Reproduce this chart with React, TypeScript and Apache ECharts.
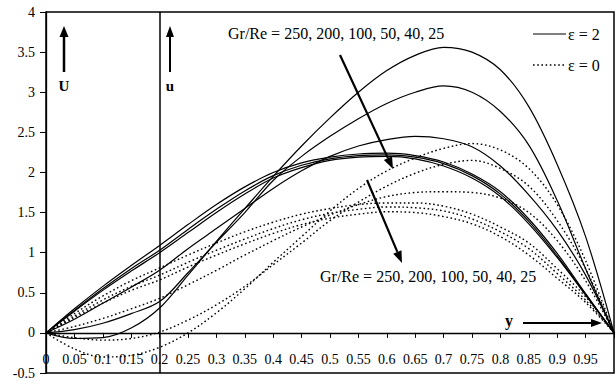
import React, { useEffect, useRef } from "react";
import * as echarts from "echarts";

const xs = [0, 0.05, 0.1, 0.15, 0.2, 0.25, 0.3, 0.35, 0.4, 0.45, 0.5, 0.55, 0.6, 0.65, 0.7, 0.75, 0.8, 0.85, 0.9, 0.95, 1];
const xTickLabels = ["0", "0.05", "0.1", "0.15", "0.2", "0.25", "0.3", "0.35", "0.4", "0.45", "0.5", "0.55", "0.6", "0.65", "0.7", "0.75", "0.8", "0.85", "0.9", "0.95", ""];
const grRe = [250, 200, 100, 50, 40, 25];

// epsilon = 2 (solid)
const solid250 = [0, -0.07, -0.06, 0.06, 0.31, 0.72, 1.14, 1.55, 1.95, 2.33, 2.68, 3.0, 3.27, 3.46, 3.56, 3.5, 3.28, 2.82, 2.1, 1.2, 0];
const solid200 = [0, 0.04, 0.12, 0.24, 0.39, 0.75, 1.13, 1.5, 1.9, 2.2, 2.45, 2.67, 2.86, 3.0, 3.08, 3.0, 2.76, 2.34, 1.65, 0.8, 0];
const solid100 = [0, 0.17, 0.37, 0.57, 0.78, 1.05, 1.3, 1.55, 1.8, 2.02, 2.2, 2.33, 2.41, 2.45, 2.42, 2.32, 2.08, 1.72, 1.28, 0.72, 0];
const solid50 = [0, 0.3, 0.58, 0.84, 1.09, 1.35, 1.6, 1.82, 2.0, 2.12, 2.19, 2.23, 2.24, 2.21, 2.13, 1.98, 1.76, 1.42, 0.99, 0.49, 0];
const solid40 = [0, 0.28, 0.55, 0.8, 1.03, 1.29, 1.54, 1.77, 1.96, 2.09, 2.17, 2.21, 2.22, 2.19, 2.11, 1.96, 1.73, 1.39, 0.96, 0.48, 0];
const solid25 = [0, 0.27, 0.53, 0.77, 1.0, 1.25, 1.5, 1.73, 1.93, 2.06, 2.15, 2.19, 2.2, 2.17, 2.08, 1.93, 1.7, 1.36, 0.94, 0.47, 0];

// epsilon = 0 (dotted)
const dot250 = [0, -0.2, -0.3, -0.28, -0.18, 0.0, 0.25, 0.55, 0.88, 1.2, 1.52, 1.8, 2.02, 2.18, 2.3, 2.36, 2.28, 2.05, 1.6, 0.9, 0];
const dot200 = [0, -0.06, -0.09, -0.07, 0.01, 0.16, 0.35, 0.58, 0.85, 1.12, 1.4, 1.63, 1.83, 1.99, 2.1, 2.15, 2.05, 1.83, 1.4, 0.8, 0];
const dot100 = [0, 0.08, 0.18, 0.3, 0.43, 0.6, 0.78, 0.97, 1.15, 1.32, 1.47, 1.6, 1.7, 1.75, 1.76, 1.75, 1.68, 1.5, 1.15, 0.65, 0];
const dot50 = [0, 0.24, 0.46, 0.65, 0.81, 0.97, 1.12, 1.26, 1.38, 1.48, 1.55, 1.6, 1.62, 1.62, 1.58, 1.48, 1.32, 1.12, 0.8, 0.45, 0];
const dot40 = [0, 0.21, 0.41, 0.58, 0.72, 0.88, 1.03, 1.17, 1.3, 1.41, 1.49, 1.54, 1.57, 1.56, 1.52, 1.42, 1.26, 1.05, 0.74, 0.41, 0];
const dot25 = [0, 0.19, 0.37, 0.53, 0.66, 0.82, 0.97, 1.11, 1.24, 1.35, 1.43, 1.48, 1.51, 1.5, 1.45, 1.36, 1.2, 0.97, 0.68, 0.38, 0];

const solidSets = [solid250, solid200, solid100, solid50, solid40, solid25];
const dotSets = [dot250, dot200, dot100, dot50, dot40, dot25];

const FONT = "Liberation Serif";
const grLabel = "Gr/Re = " + grRe.join(", ");

function pairs(vals: number[]) {
  return xs.map((x, i) => [x, vals[i]]);
}

function arrow(x1: number, y1: number, x2: number, y2: number, w: number, head: number, hw: number) {
  const dx = x2 - x1, dy = y2 - y1;
  const len = Math.sqrt(dx * dx + dy * dy);
  const ux = dx / len, uy = dy / len;
  const bx = x2 - ux * head, by = y2 - uy * head;
  const px = -uy, py = ux;
  return [
    { type: "line", shape: { x1, y1, x2: bx, y2: by }, style: { stroke: "#000", lineWidth: w } },
    {
      type: "polygon",
      shape: { points: [[x2, y2], [bx + px * hw, by + py * hw], [bx - px * hw, by - py * hw]] },
      style: { fill: "#000" },
    },
  ];
}

function txt(x: number, y: number, text: string, size: number, bold: boolean, align: string) {
  return {
    type: "text",
    x,
    y,
    style: { text, fontFamily: FONT, fontSize: size, fontWeight: bold ? "bold" : "normal", fill: "#000", align, verticalAlign: "middle" },
  };
}

export default function App() {
  const ref = useRef<HTMLDivElement>(null);
  useEffect(() => {
    if (!ref.current) return;
    const chart = echarts.init(ref.current, null, { renderer: "svg" });
    const series: any[] = [];
    solidSets.forEach((vals, i) => {
      series.push({
        name: "ε = 2, Gr/Re = " + grRe[i],
        type: "line",
        data: pairs(vals),
        smooth: 0.35,
        showSymbol: false,
        lineStyle: { color: "#000", width: 1.2, type: "solid" },
        z: 3,
        ...(i === 0
          ? {
              markLine: {
                silent: true,
                symbol: "none",
                label: { show: false },
                lineStyle: { color: "#000", type: "solid", width: 1.5 },
                data: [{ xAxis: 0.2 }],
              },
            }
          : {}),
      });
    });
    dotSets.forEach((vals, i) => {
      series.push({
        name: "ε = 0, Gr/Re = " + grRe[i],
        type: "line",
        data: pairs(vals),
        smooth: 0.35,
        showSymbol: false,
        lineStyle: { color: "#000", width: 1.4, type: [1.6, 2.6] },
        z: 3,
      });
    });

    const graphics: any[] = [
      // legend
      { type: "line", shape: { x1: 533, y1: 34, x2: 566, y2: 34 }, style: { stroke: "#000", lineWidth: 1.2 } },
      txt(568, 34, "ε = 2", 16, false, "left"),
      { type: "line", shape: { x1: 533, y1: 65, x2: 566, y2: 65 }, style: { stroke: "#000", lineWidth: 1.4, lineDash: [1.6, 2.6] } },
      txt(568, 65, "ε = 0", 16, false, "left"),
      // Gr/Re labels
      txt(228, 33, grLabel, 16, false, "left"),
      txt(320, 276, grLabel, 16, false, "left"),
      // U, u, y labels
      txt(64, 86, "U", 15, true, "center"),
      txt(170, 86, "u", 15, true, "center"),
      txt(509, 320, "y", 16, true, "center"),
      ...arrow(64, 72, 64, 26, 2.5, 11, 4.5),
      ...arrow(170, 72, 170, 26, 2, 11, 4),
      ...arrow(523, 323, 602, 323, 2, 11, 4),
      ...arrow(340, 55, 393, 169, 2.2, 12, 4.5),
      ...arrow(367, 180, 402, 263, 2.2, 12, 4.5),
    ];

    const gridBottom = 8;
    const zeroOffset = -((381 - gridBottom - 12) * 0.5 / 4.5);

    chart.setOption({
      animation: false,
      backgroundColor: "#fff",
      textStyle: { fontFamily: FONT },
      grid: {
        left: 46, right: 2, top: 12, bottom: gridBottom,
        containLabel: false,
        outerBoundsMode: "none",
        show: true, borderColor: "#000", borderWidth: 1.5, backgroundColor: "transparent",
      },
      xAxis: [
        {
          type: "value",
          min: 0,
          max: 1,
          interval: 0.05,
          axisLine: { onZero: true, lineStyle: { color: "#000", width: 1.3 } },
          axisTick: { show: true, length: 5, lineStyle: { color: "#000", width: 1 } },
          axisLabel: { show: false },
          splitLine: { show: false },
        },
        {
          type: "value",
          min: 0,
          max: 1,
          interval: 0.05,
          position: "bottom",
          offset: zeroOffset,
          axisLine: { show: false, onZero: false },
          axisTick: { show: false },
          axisLabel: {
            margin: 20,
            color: "#000",
            fontFamily: FONT,
            fontSize: 14,
            hideOverlap: false,
            formatter: (v: number) => {
              const idx = Math.round(v / 0.05);
              return xTickLabels[idx] ?? "";
            },
          },
          splitLine: { show: false },
        },
      ],
      yAxis: {
        type: "value",
        min: -0.5,
        max: 4,
        interval: 0.5,
        axisLine: { show: true, onZero: false, lineStyle: { color: "#000", width: 1.3 } },
        axisTick: { show: true, length: 6, lineStyle: { color: "#000", width: 1 } },
        axisLabel: { margin: 11, color: "#000", fontFamily: FONT, fontSize: 14 },
        splitLine: { show: false },
      },
      series,
      graphic: graphics,
    });
    return () => chart.dispose();
  }, []);
  return <div ref={ref} style={{ position: "fixed", left: 0, top: 0, width: 616, height: 381, background: "#fff" }} />;
}
